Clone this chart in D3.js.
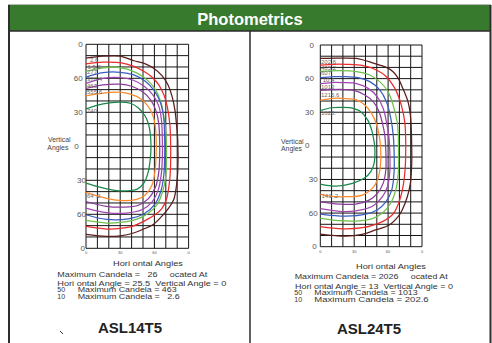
<!DOCTYPE html>
<html><head><meta charset="utf-8">
<script src="https://cdn.jsdelivr.net/npm/d3@7"></script>
<style>html,body{margin:0;padding:0;background:#fff;} svg{display:block;} text{font-family:"Liberation Sans",Arial,Helvetica,sans-serif;white-space:pre;}</style>
</head><body><svg id="c" width="492" height="343"></svg>
<script>
// ---------- data ----------
const titleText = "Photometrics";
const yTickLabels = ["0","60","30","0","30","60","0"];
const yTickRows = [0,3,6,9,12,15,18];
const xTickLabels = ["0","30","60","0"];
const xTickCols = [0,3,6,9];
const curveColors = ["#5a1c1c","#ec2b2b","#6dc04b","#3b5dbf","#a047b2","#8c3b9c","#fb8a2c","#17874b"];

// ASL14T5 iso-candela curves (grid col, grid row)
const asl14Brown = [[0,1.23],[1.5,1.05],[3,1.05],[4.2,1.45],[5.1,1.68],[5.9,2.1],[6.7,2.8],[7.2,3.6],[7.55,4.6],[7.8,5.8],[7.95,7.2],[8.05,8.5],[8.05,11.2],[7.93,12.5],[7.7,13.7],[7.25,14.45],[6.8,15.0],[5.9,15.9],[5.05,16.3],[4.17,16.65],[3.0,16.9],[1.8,16.95],[0,16.77]];
const asl14Red = [[0,1.72],[1.5,1.58],[3,1.62],[4.2,1.95],[5.1,2.4],[5.8,2.9],[6.4,3.6],[6.85,4.5],[7.15,5.6],[7.35,7],[7.42,8.5],[7.4,11.2],[7.28,12.5],[7.05,13.7],[6.65,14.5],[6.05,15.05],[5.1,15.6],[4.1,16.05],[3,16.25],[1.8,16.3],[0,16.07]];
const asl14LightGreen = [[0,2.4],[1.5,2.08],[3,2.06],[4.4,2.5],[5.35,3.14],[6.1,4.0],[6.55,5.05],[6.8,6.2],[7.02,8.0],[7.06,10],[7.0,11.6],[6.75,12.9],[6.2,14.2],[5.35,15.0],[4.4,15.45],[3.0,15.72],[1.8,15.77],[0,15.54]];
const asl14Blue = [[0,2.9],[1.5,2.5],[3,2.47],[4.2,2.7],[5.2,3.25],[6.0,4.1],[6.55,5.2],[6.82,6.5],[6.9,8.3],[6.9,10],[6.82,11.6],[6.58,12.9],[6.05,14.1],[5.1,14.95],[3.7,15.4],[1.8,15.45],[0,15.04]];
const asl14PurpleOuter = [[0,3.44],[1.5,3.0],[3,2.94],[4.1,3.15],[5.1,3.7],[5.9,4.5],[6.4,5.5],[6.62,6.7],[6.7,8.5],[6.7,10],[6.6,11.5],[6.35,12.8],[5.8,13.9],[4.9,14.6],[3.5,14.9],[1.8,14.85],[0,14.45]];
const asl14PurpleInner = [[0,3.9],[1.5,3.58],[3,3.52],[4,3.7],[5,4.2],[5.7,4.95],[6.15,5.9],[6.38,7.0],[6.46,8.5],[6.46,10],[6.38,11.3],[6.1,12.6],[5.5,13.6],[4.6,14.2],[3.3,14.37],[1.8,14.3],[0,13.87]];
const asl14Orange = [[0,4.55],[1.5,4.3],[3,4.22],[3.9,4.4],[4.75,4.78],[5.35,5.35],[5.8,6.1],[6.05,7.0],[6.15,8.2],[6.15,9.8],[6.05,11.2],[5.8,12.4],[5.2,13.3],[4.46,13.68],[3.3,13.8],[1.8,13.6],[0,13.07]];
const asl14Green = [[0,5.7],[1.5,5.25],[3,5.1],[3.9,5.2],[4.6,5.62],[5.2,6.35],[5.5,7.1],[5.65,8.0],[5.7,9.0],[5.65,10.0],[5.45,11.3],[5.1,12.2],[4.5,12.78],[3.9,12.9],[2.5,12.88],[1.2,12.6],[0,12.25]];

// ASL24T5 iso-candela curves (grid col, grid row)
const asl24Brown = [[0,1.2],[1.5,1.17],[3.2,1.19],[3.8,1.34],[4.5,1.55],[5.26,1.79],[5.85,2.0],[6.44,2.38],[6.9,2.98],[7.3,3.87],[7.76,5.06],[7.97,6.25],[8.06,7.74],[8.09,9.2],[8.09,10.6],[7.97,12.35],[7.7,13.54],[7.26,14.7],[6.9,15.3],[6.1,16.07],[4.9,16.5],[3.7,16.9],[2.26,17.05],[0,16.87]];
const asl24Red = [[0,1.8],[1.2,1.72],[2.3,1.73],[3.8,1.85],[4.97,2.23],[5.85,2.83],[6.6,3.87],[7.17,5.36],[7.47,6.85],[7.55,8.2],[7.55,10],[7.5,11.2],[7.26,12.95],[6.82,14.4],[6.38,15.15],[5.2,15.9],[3.73,16.3],[1.97,16.4],[0,16.2]];
const asl24LightGreen = [[0,2.35],[1.74,2.29],[3.2,2.38],[4.38,2.68],[5.26,3.27],[6.0,4.17],[6.44,5.36],[6.8,6.85],[6.9,8.0],[6.92,9.5],[6.9,11.46],[6.68,12.95],[6.24,14.1],[5.5,15.0],[4.6,15.5],[3.15,15.71],[1.68,15.68],[0,15.47]];
const asl24Blue = [[0,2.92],[1.2,2.82],[2.3,2.83],[3.35,2.92],[4.38,3.27],[5.26,4.0],[5.85,5.06],[6.24,6.55],[6.45,8.0],[6.53,9.5],[6.53,11.3],[6.32,12.95],[5.8,14.0],[5.06,14.7],[4.03,15.1],[2.26,15.27],[0,15.09]];
const asl24PurpleOuter = [[0,3.45],[1.0,3.35],[2.03,3.36],[3.2,3.45],[4.24,3.87],[5.03,4.61],[5.56,5.65],[5.85,6.85],[6.05,8.0],[6.15,9.5],[6.15,11.3],[5.94,12.65],[5.5,13.54],[4.76,14.3],[3.73,14.7],[2.26,14.88],[0,14.6]];
const asl24PurpleInner = [[0,4.05],[1.74,3.96],[3.06,4.08],[3.94,4.46],[4.68,5.06],[5.2,5.95],[5.5,7.0],[5.7,8.0],[5.8,9.5],[5.8,11.16],[5.56,12.35],[5.06,13.24],[4.32,13.84],[3.15,14.2],[1.68,14.2],[0,14.0]];
const asl24Orange = [[0,4.95],[1.1,4.76],[2.5,4.8],[3.2,4.9],[3.94,5.36],[4.53,6.1],[4.95,7.0],[5.2,8.0],[5.35,9.4],[5.3,11.0],[5.06,12.05],[4.6,12.8],[3.73,13.39],[2.26,13.54],[0.8,13.48],[0,13.3]];
const asl24Green = [[0,5.85],[1.0,5.6],[1.97,5.57],[2.9,5.65],[3.5,5.9],[4.2,6.7],[4.55,7.6],[4.72,8.4],[4.82,9.1],[4.76,10.57],[4.47,11.3],[3.88,11.9],[2.85,12.35],[1.38,12.6],[0,12.41]];

const asl14CurveLabels = ["2.6","1 5.2","277.","370.4","463","555.6","740.","64 .2"];
const asl24CurveLabels = ["202.6","405.2","607."," 10.4","1013","1215.6","1620.","141 .2"];

const asl14Lines = ["Hori ontal Angles","Maximum Candela =   26     ocated At","Hori ontal Angle = 25.5  Vertical Angle = 0","50","Maximum Candela = 463","10","Maximum Candela =   2.6"];
const asl24Lines = ["Hori ontal Angles","Maximum Candela = 2026     ocated At","Hori ontal Angle = 13  Vertical Angle = 0","50","Maximum Candela = 1013","10","Maximum Candela = 202.6"];
const modelNames = ["ASL14T5","ASL24T5"];

// ---------- layout ----------
const svg = d3.select("#c");

svg.append("line").attr("x1",8).attr("x2",491).attr("y1",4.5).attr("y2",4.5).attr("stroke","#b8b8b8").attr("stroke-width",1);
svg.append("rect").attr("x",9).attr("y",5).attr("width",481).attr("height",26).attr("fill","#387a2d");
svg.append("line").attr("x1",9).attr("x2",490).attr("y1",31).attr("y2",31).attr("stroke","#2b2b2b").attr("stroke-width",1.5);
svg.append("line").attr("x1",9).attr("x2",9).attr("y1",5).attr("y2",343).attr("stroke","#2e2e2e").attr("stroke-width",2);
svg.append("line").attr("x1",490.5).attr("x2",490.5).attr("y1",5).attr("y2",343).attr("stroke","#2e2e2e").attr("stroke-width",2);
svg.append("line").attr("x1",250).attr("x2",250).attr("y1",31).attr("y2",343).attr("stroke","#2e2e2e").attr("stroke-width",1.5);
svg.append("text").attr("x",250).attr("y",25).attr("text-anchor","middle").attr("fill","#fff")
  .attr("font-weight","bold").attr("font-size",16.5).text(titleText);

const charts = [
  {x0:86, x1:188.6, y0:44.3, y1:248.3,
   curves:[asl14Brown,asl14Red,asl14LightGreen,asl14Blue,asl14PurpleOuter,asl14PurpleInner,asl14Orange,asl14Green],
   labels:asl14CurveLabels, labelPos:[[90,62],[87.5,68.5],[87,74.3],[87,81],[87,88],[87,94.3],[87,112.7],[87,198]],
   yEnd:[82.7,82.7,82.7,78.7,86,86,85], vert:[[48,142.3],[47.3,150.2]], xTickY:253.5,
   lines:asl14Lines,
   lineLayout:[[113,265.5,70],[57.3,277,150],[57.3,285.5,169],[57.3,292,null],[77.7,292,99],[57.3,298.7,null],[77.7,298.7,102]],
   name:modelNames[0], nameX:130, nameY:333.3, mark:true},
  {x0:320.3, x1:422, y0:45, y1:246.7,
   curves:[asl24Brown,asl24Red,asl24LightGreen,asl24Blue,asl24PurpleOuter,asl24PurpleInner,asl24Orange,asl24Green],
   labels:asl24CurveLabels, labelPos:[[321,63.7],[321,69.7],[321,74.7],[321,82],[321,89.3],[321,97],[321,114.7],[321.5,197.7]],
   yEnd:[314,314,314,309.5,317.7,317.7,316.7], vert:[[281,143.5],[281,151.4]], xTickY:253,
   lines:asl24Lines,
   lineLayout:[[356,268.5,70],[294.7,279,153],[295,288.7,158],[294.3,295.3,null],[314.3,295.3,103.4],[294.3,302,null],[314.3,302,114.4]],
   name:modelNames[1], nameX:369, nameY:334, mark:false}
];

charts.forEach(cfg => {
  const g = svg.append("g");
  const x = d3.scaleLinear().domain([0,9]).range([cfg.x0,cfg.x1]);
  const y = d3.scaleLinear().domain([0,18]).range([cfg.y0,cfg.y1]);
  // grid
  g.selectAll(".vg").data(d3.range(0,10)).join("line")
    .attr("x1",d=>x(d)).attr("x2",d=>x(d)).attr("y1",y(0)).attr("y2",y(18))
    .attr("stroke","#151515").attr("stroke-width",1);
  g.selectAll(".hg").data(d3.range(0,19)).join("line")
    .attr("x1",x(0)).attr("x2",x(9)).attr("y1",d=>y(d)).attr("y2",d=>y(d))
    .attr("stroke","#151515").attr("stroke-width",1);
  // curves
  const line = d3.line().x(d=>x(d[0])).y(d=>y(d[1])).curve(d3.curveCatmullRom.alpha(0.5));
  cfg.curves.forEach((c,i) => {
    g.append("path").attr("d",line(c)).attr("fill","none").attr("stroke",curveColors[i]).attr("stroke-width",1.25);
  });
  // curve labels
  cfg.labels.forEach((t,i) => {
    g.append("text").attr("x",cfg.labelPos[i][0]).attr("y",cfg.labelPos[i][1])
      .attr("font-size",6).attr("fill","#6a6a6a").text(t);
  });
  // y tick labels
  yTickLabels.forEach((t,i) => {
    g.append("text").attr("x",cfg.yEnd[i]).attr("y",y(yTickRows[i])+2.5).attr("text-anchor","end")
      .attr("font-size",8).attr("fill","#555").text(t);
  });
  g.append("text").attr("x",cfg.vert[0][0]).attr("y",cfg.vert[0][1]).attr("font-size",6.9).attr("fill","#444").text("Vertical");
  g.append("text").attr("x",cfg.vert[1][0]).attr("y",cfg.vert[1][1]).attr("font-size",6.9).attr("fill","#444").text("Angles");
  // x tick labels
  xTickLabels.forEach((t,i) => {
    g.append("text").attr("x",x(xTickCols[i])).attr("y",cfg.xTickY).attr("text-anchor","middle")
      .attr("font-size",4).attr("fill","#555").text(t);
  });
  // text block
  cfg.lines.forEach((t,i) => {
    const L = cfg.lineLayout[i];
    const fs = i === 0 ? 8 : 7;
    const tx = g.append("text").attr("x",L[0]).attr("y",L[1]).attr("font-size",fs).attr("fill","#333").text(t);
    if (L[2]) tx.attr("textLength",L[2]).attr("lengthAdjust","spacingAndGlyphs");
  });
  g.append("text").attr("x",cfg.nameX).attr("y",cfg.nameY).attr("text-anchor","middle")
    .attr("font-size",15).attr("font-weight","bold").attr("fill","#222").text(cfg.name);
  if (cfg.mark) g.append("line").attr("x1",60).attr("y1",331).attr("x2",63).attr("y2",334).attr("stroke","#333").attr("stroke-width",1);
});
</script></body></html>
